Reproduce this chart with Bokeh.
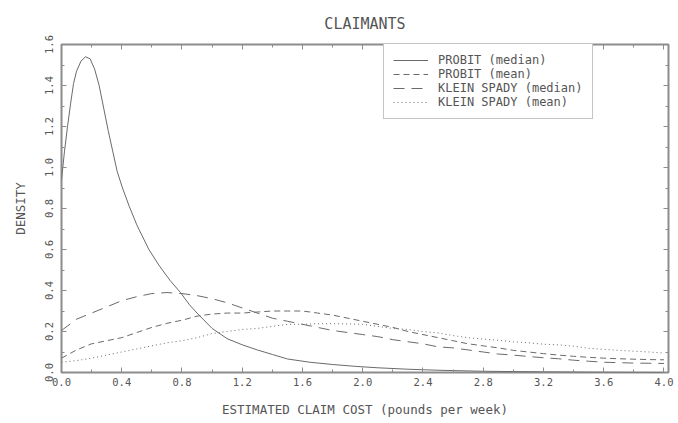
from bokeh.plotting import figure
from bokeh.models import (LinearAxis, SingleIntervalTicker, Legend, LegendItem,
                          Range1d, PrintfTickFormatter)
from bokeh.embed import file_html
from bokeh.resources import INLINE

# ---- data ----
probit_median_x = [0.0, 0.02, 0.04, 0.06, 0.08, 0.10, 0.13, 0.16, 0.19, 0.22, 0.25,
                   0.28, 0.31, 0.34, 0.37, 0.405, 0.45, 0.50, 0.58, 0.65, 0.72, 0.79,
                   0.85, 0.90, 1.00, 1.10, 1.20, 1.30, 1.40, 1.50, 1.65, 1.80, 1.95,
                   2.10, 2.30, 2.50, 2.80, 3.20, 3.60, 4.00]
probit_median_y = [0.94, 1.08, 1.20, 1.31, 1.41, 1.47, 1.52, 1.54, 1.53, 1.48, 1.40,
                   1.29, 1.18, 1.08, 0.98, 0.90, 0.81, 0.72, 0.60, 0.52, 0.45, 0.39,
                   0.33, 0.29, 0.215, 0.165, 0.135, 0.11, 0.088, 0.066, 0.05, 0.039, 0.03,
                   0.023, 0.016, 0.011, 0.006, 0.003, 0.001, 0.0]

grid_x = [0.0, 0.1, 0.2, 0.3, 0.4, 0.5, 0.6, 0.7, 0.8, 0.9, 1.0, 1.1, 1.2, 1.3,
          1.4, 1.5, 1.6, 1.7, 1.8, 1.9, 2.0, 2.1, 2.2, 2.3, 2.4, 2.5, 2.6, 2.7,
          2.8, 2.9, 3.0, 3.1, 3.2, 3.3, 3.4, 3.5, 3.6, 3.7, 3.8, 3.9, 4.0]
probit_mean_y = [0.07, 0.11, 0.14, 0.155, 0.17, 0.195, 0.22, 0.24, 0.255, 0.275, 0.285,
                 0.29, 0.29, 0.295, 0.30, 0.30, 0.30, 0.29, 0.28, 0.265, 0.25, 0.235,
                 0.22, 0.20, 0.185, 0.17, 0.155, 0.14, 0.13, 0.12, 0.108, 0.10, 0.092,
                 0.085, 0.079, 0.074, 0.07, 0.067, 0.065, 0.063, 0.062]
ks_median_y = [0.205, 0.26, 0.29, 0.32, 0.35, 0.37, 0.385, 0.39, 0.385, 0.375, 0.36,
               0.34, 0.315, 0.29, 0.265, 0.25, 0.235, 0.22, 0.205, 0.195, 0.185, 0.175,
               0.16, 0.15, 0.14, 0.125, 0.12, 0.11, 0.10, 0.09, 0.085, 0.078, 0.072,
               0.067, 0.06, 0.055, 0.05, 0.048, 0.046, 0.045, 0.044]
ks_mean_y = [0.05, 0.058, 0.07, 0.085, 0.10, 0.115, 0.13, 0.145, 0.155, 0.17, 0.19,
             0.20, 0.21, 0.215, 0.225, 0.235, 0.235, 0.238, 0.238, 0.237, 0.235, 0.225,
             0.215, 0.21, 0.20, 0.193, 0.18, 0.17, 0.163, 0.157, 0.15, 0.145, 0.138,
             0.135, 0.128, 0.118, 0.113, 0.108, 0.104, 0.10, 0.095]

labels = ["PROBIT (median)", "PROBIT (mean)", "KLEIN SPADY (median)", "KLEIN SPADY (mean)"]
title_text = "CLAIMANTS"
x_title = "ESTIMATED CLAIM COST (pounds per week)"
y_title = "DENSITY"

FONT = "DejaVu Sans Mono"
LINE = "#6a6a6a"
FRAME = "#8c8c8c"
TEXT = "#555555"

p = figure(width=678, height=423, x_range=Range1d(0, 4.03), y_range=Range1d(0, 1.6),
           output_backend="svg", toolbar_location=None,
           min_border_left=61, min_border_right=10, min_border_top=44, min_border_bottom=51)
p.xaxis.visible = False
p.yaxis.visible = False
p.xgrid.visible = False
p.ygrid.visible = False
p.outline_line_color = FRAME
p.outline_line_width = 2

p.title.text = title_text
p.title.align = "center"
p.title.text_font = FONT
p.title.text_font_size = "15px"
p.title.text_font_style = "normal"
p.title.text_color = TEXT
p.title.standoff = 23


def make_axis(interval, show_labels, label=None):
    ax = LinearAxis(ticker=SingleIntervalTicker(interval=interval, num_minor_ticks=2),
                    formatter=PrintfTickFormatter(format="%.1f"))
    ax.axis_line_color = None
    ax.major_tick_in = 5
    ax.major_tick_out = 0
    ax.minor_tick_in = 3
    ax.minor_tick_out = 0
    ax.major_tick_line_color = FRAME
    ax.minor_tick_line_color = FRAME
    ax.major_label_text_font = FONT
    if show_labels:
        ax.major_label_text_font_size = "10.5px"
        ax.major_label_text_color = TEXT
    else:
        # tick marks only: labels are not drawn
        ax.major_label_text_font_size = "1px"
        ax.major_label_text_color = None
        ax.major_label_standoff = 0
    if label:
        ax.axis_label = label
        ax.axis_label_text_font = FONT
        ax.axis_label_text_font_size = "12.5px"
        ax.axis_label_text_font_style = "normal"
        ax.axis_label_text_color = TEXT
    return ax


xb = make_axis(0.4, True, x_title)
xb.major_label_standoff = 5
xb.axis_label_standoff = 13
p.add_layout(xb, "below")
yl = make_axis(0.2, True, y_title)
yl.major_label_orientation = "vertical"
yl.major_label_standoff = 9
yl.axis_label_standoff = 14
p.add_layout(yl, "left")
p.add_layout(make_axis(0.4, False), "above")
p.add_layout(make_axis(0.2, False), "right")

r1 = p.line(probit_median_x, probit_median_y, line_color=LINE, line_width=1)
r2 = p.line(grid_x, probit_mean_y, line_color=LINE, line_width=1, line_dash="6 4")
r3 = p.line(grid_x, ks_median_y, line_color=LINE, line_width=1, line_dash="11 7")
r4 = p.line(grid_x, ks_mean_y, line_color=LINE, line_width=1, line_dash="1 3")

legend = Legend(items=[LegendItem(label=labels[0], renderers=[r1]),
                       LegendItem(label=labels[1], renderers=[r2]),
                       LegendItem(label=labels[2], renderers=[r3]),
                       LegendItem(label=labels[3], renderers=[r4])],
                location=(322, 253))
legend.border_line_color = FRAME
legend.border_line_width = 1
legend.background_fill_color = "white"
legend.background_fill_alpha = 1
legend.label_text_font = FONT
legend.label_text_font_size = "12px"
legend.label_text_color = TEXT
legend.glyph_width = 35
legend.glyph_height = 14
legend.label_height = 14
legend.label_standoff = 10
legend.spacing = 0
legend.padding = 9
legend.margin = 0
p.add_layout(legend, "center")

open("out.html", "w").write(file_html(p, INLINE))
